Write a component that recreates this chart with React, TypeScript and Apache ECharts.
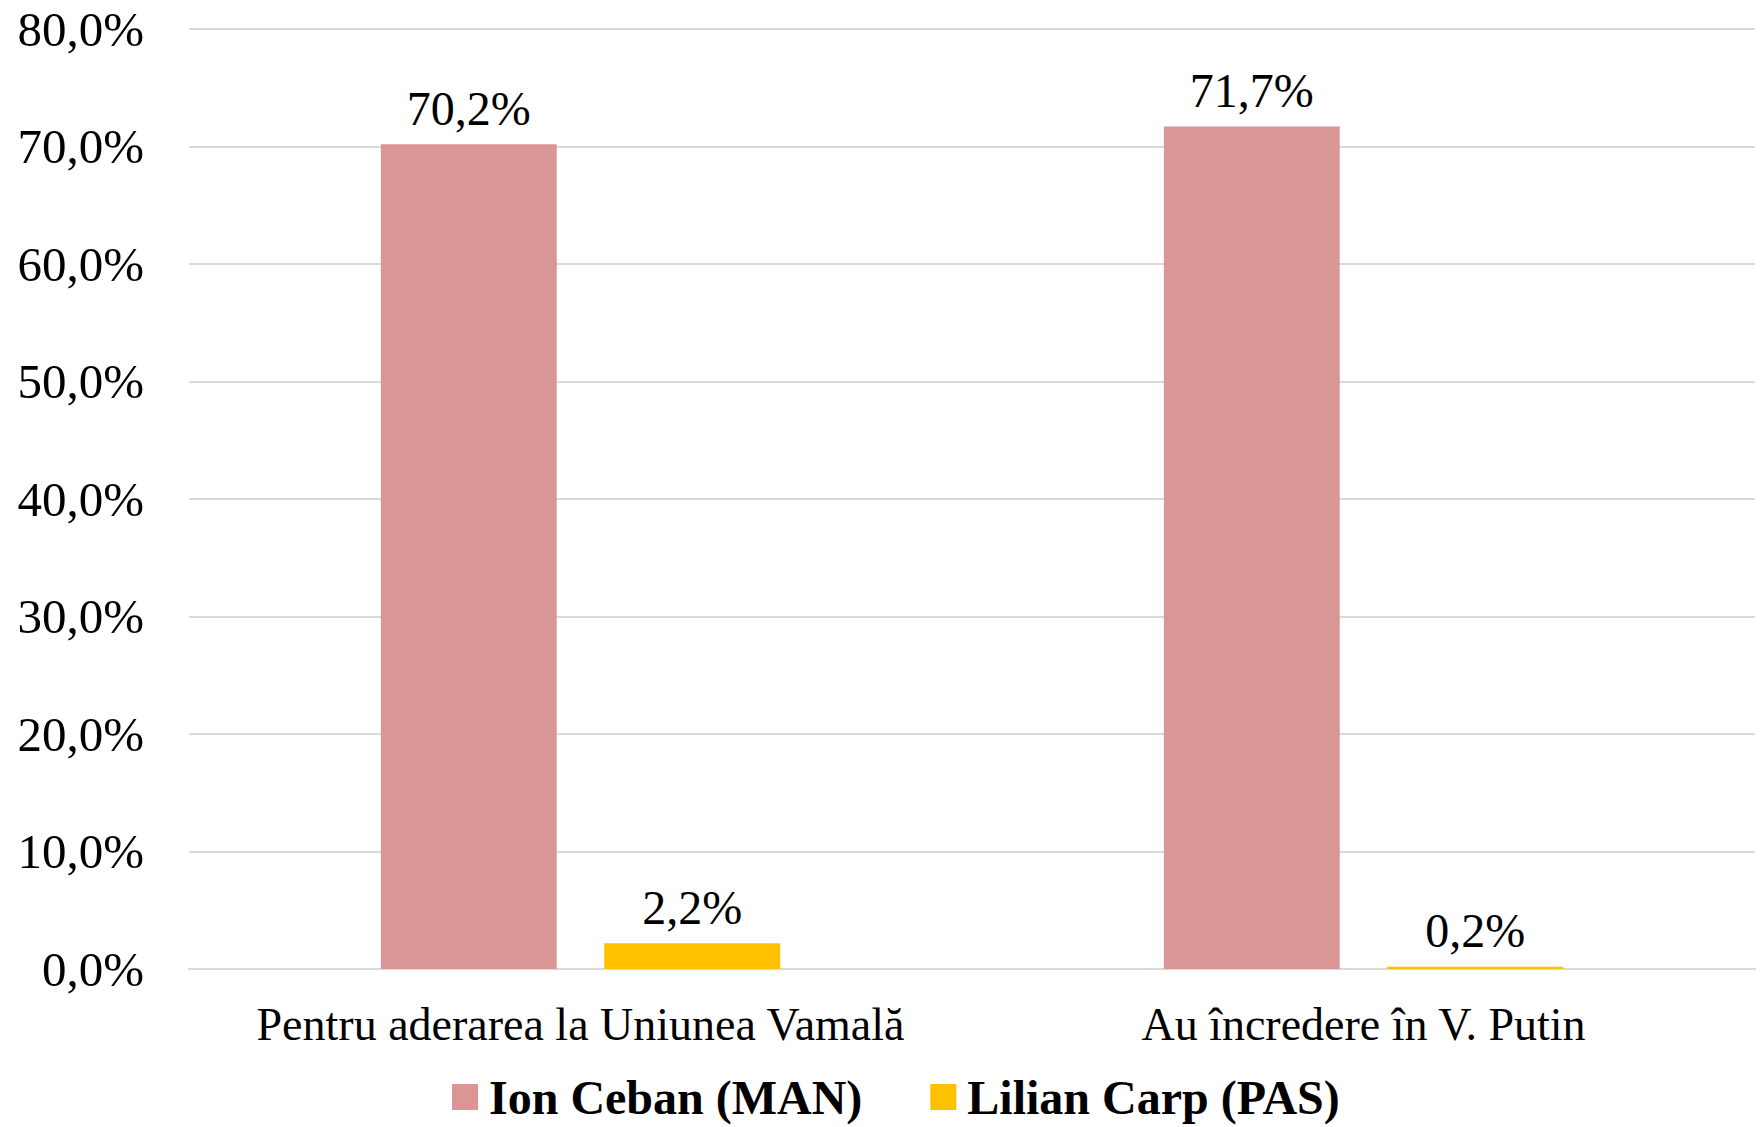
import React, { useEffect, useRef } from "react";
import * as echarts from "echarts";

const categories = ["Pentru aderarea la Uniunea Vamală", "Au încredere în V. Putin"];
const seriesNames = ["Ion Ceban (MAN)", "Lilian Carp (PAS)"];
const cebanValues = [70.2, 71.7];
const carpValues = [2.2, 0.2];
const seriesColors = ["#D99694", "#FFC000"];

const fmt = (v: number) => v.toFixed(1).replace(".", ",") + "%";
const FONT = "'Liberation Serif', 'Times New Roman', serif";

export default function App() {
  const ref = useRef<HTMLDivElement>(null);
  useEffect(() => {
    document.body.style.margin = "0";
    const chart = echarts.init(ref.current!, null, { renderer: "svg" });
    const labelCfg = {
      show: true,
      position: "top",
      distance: 12,
      fontFamily: FONT,
      fontSize: 48,
      color: "#000",
      formatter: (p: any) => fmt(p.value),
    };
    chart.setOption({
      animation: false,
      backgroundColor: "#ffffff",
      textStyle: { fontFamily: FONT },
      grid: { left: 189, right: 7, top: 29, bottom: 158, containLabel: false },
      legend: {
        data: seriesNames,
        left: 447,
        top: 1068,
        itemWidth: 26,
        itemHeight: 26,
        itemGap: 68,
        icon: "rect",
        textStyle: {
          fontFamily: FONT,
          fontSize: 48,
          fontWeight: "bold",
          color: "#000",
          padding: [0, 0, 0, 6],
        },
      },
      xAxis: {
        type: "category",
        data: categories,
        axisLine: { show: true, lineStyle: { color: "#d9d9d9", width: 2 } },
        axisTick: { show: false },
        axisLabel: { fontFamily: FONT, fontSize: 46, color: "#000", margin: 32, interval: 0 },
      },
      yAxis: {
        type: "value",
        min: 0,
        max: 80,
        interval: 10,
        axisLine: { show: false },
        axisTick: { show: false },
        axisLabel: {
          fontFamily: FONT,
          fontSize: 49,
          color: "#000",
          margin: 45,
          formatter: (v: number) => fmt(v),
        },
        splitLine: { lineStyle: { color: "#d9d9d9", width: 2 } },
      },
      series: [
        {
          name: seriesNames[0],
          type: "bar",
          data: cebanValues,
          itemStyle: { color: seriesColors[0] },
          barGap: "27%",
          barCategoryGap: "49%",
          label: labelCfg,
        },
        {
          name: seriesNames[1],
          type: "bar",
          data: carpValues,
          itemStyle: { color: seriesColors[1] },
          barGap: "27%",
          barCategoryGap: "49%",
          label: labelCfg,
        },
      ],
    });
    return () => chart.dispose();
  }, []);
  return <div ref={ref} style={{ width: 1762, height: 1127 }} />;
}
